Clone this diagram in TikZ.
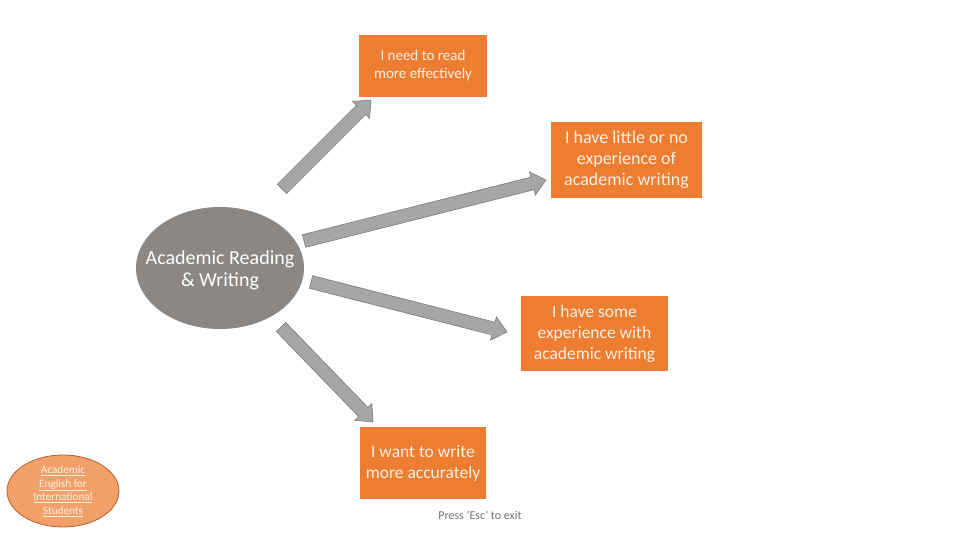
\documentclass[tikz,border=0pt]{standalone}
\usepackage{fontspec}
\setmainfont{Carlito}
\usetikzlibrary{calc,shapes.geometric}
\definecolor{boxorange}{HTML}{ED7D31}
\definecolor{boxtext}{HTML}{FDF0E6}
\definecolor{hubgray}{HTML}{8A8784}
\definecolor{arrowfill}{HTML}{A6A6A6}
\definecolor{arrowline}{HTML}{7A7A7A}
\definecolor{smallfill}{HTML}{F2A06A}
\definecolor{smallline}{HTML}{B8602A}
\tikzset{
  optbox/.style={rectangle, fill=boxorange, text=boxtext, align=center, inner sep=0pt},
  hub/.style={ellipse, fill=hubgray, inner sep=0pt},
  hubtext/.style={text=white, align=center, inner sep=0pt},
  blockarrowstyle/.style={fill=arrowfill, draw=arrowline, line width=0.6pt, line join=miter}
}
\newcommand{\blockarrow}[2]{%
  \coordinate (bah) at ($(#2)!14pt!(#1)$);
  \filldraw[blockarrowstyle]
    ($(#1)!6.5pt!90:(#2)$) -- ($(bah)!6.5pt!90:(#2)$) -- ($(bah)!12pt!90:(#2)$) --
    (#2) -- ($(bah)!12pt!-90:(#2)$) -- ($(bah)!6.5pt!-90:(#2)$) --
    ($(#1)!6.5pt!-90:(#2)$) -- cycle;
}
\begin{document}
\begin{tikzpicture}[x=1pt,y=-1pt]
\useasboundingbox (0,0) rectangle (960,540);
\fill[white] (0,0) rectangle (960,540);

\node[hub, minimum width=168pt, minimum height=122pt] (hub) at (220,268) {};
\node[hubtext, font=\fontsize{20}{22}\selectfont] (hubt) at (220,270) {Academic Reading\\\& Writing};

\node[optbox, minimum width=128pt, minimum height=62pt, font=\fontsize{15}{18}\selectfont] (b1) at (423,66) {I need to read\\more effectively};
\node[optbox, minimum width=151pt, minimum height=76pt, font=\fontsize{18}{21}\selectfont] (b2) at (626.5,160) {I have little or no\\experience of\\academic writing};
\node[optbox, minimum width=147pt, minimum height=75pt, font=\fontsize{17.5}{21}\selectfont] (b3) at (594.5,333.5) {I have some\\experience with\\academic writing};
\node[optbox, minimum width=126pt, minimum height=72pt, font=\fontsize{17.5}{21}\selectfont] (b4) at (423,463) {I want to write\\more accurately};

\coordinate (t1) at (282,189); \coordinate (h1) at (371,100);
\coordinate (t2) at (304,241); \coordinate (h2) at (546,180);
\coordinate (t3) at (311,282); \coordinate (h3) at (507,332);
\coordinate (t4) at (281,327); \coordinate (h4) at (373,422);
\blockarrow{t1}{h1}
\blockarrow{t2}{h2}
\blockarrow{t3}{h3}
\blockarrow{t4}{h4}

\node[ellipse, fill=smallfill, draw=smallline, line width=0.8pt, minimum width=112pt, minimum height=72pt, inner sep=0pt] (aeis) at (63,491) {};
\node[text=boxtext, align=center, inner sep=0pt, font=\fontsize{11.2}{13.7}\selectfont] (aeist) at (aeis.center) {\underline{Academic}\\\underline{English for}\\\underline{International}\\\underline{Students}};

\node[text=gray!90!black, font=\fontsize{12}{14}\selectfont] (esc) at (480,515) {Press ‘Esc’ to exit};
\end{tikzpicture}
\end{document}
